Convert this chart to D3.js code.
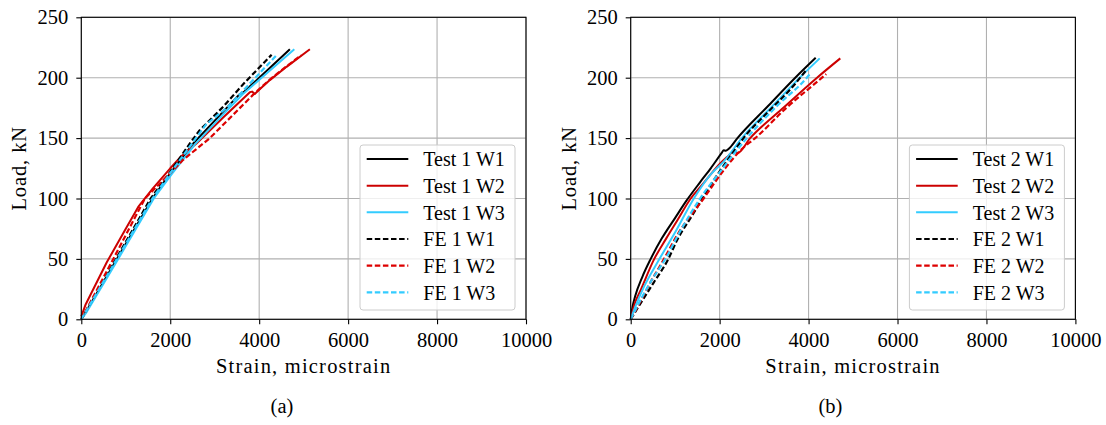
<!DOCTYPE html>
<html>
<head>
<meta charset="utf-8">
<script src="https://cdn.jsdelivr.net/npm/d3@7"></script>
<style>
  html, body { margin: 0; padding: 0; background: #fff; }
  svg { display: block; }
  text { font-family: "Liberation Serif", "Times New Roman", serif; fill: #000; }
</style>
</head>
<body>
<svg id="fig" width="1106" height="425"></svg>
<script>
// ---- tick values ----
const xTicks = [0, 2000, 4000, 6000, 8000, 10000];
const yTicks = [0, 50, 100, 150, 200, 250];

// ---- specimen 1: [strain (microstrain), load (kN)] ----
const test1W1 = [[0,0],[100,6],[800,50],[1600,100],[2000,121],[2517,145.5],[3117,169],[3550,186],[3650,188],[4690,223.5]];
const test1W2 = [[0,2.5],[100,12.5],[570,47],[1000,75],[1280,93],[1600,108],[2000,125],[2250,135],[2590,145.5],[3190,167],[3790,188],[3840,188.5],[3900,186.5],[4000,190],[4240,198],[4615,209],[5140,223.5]];
const test1W3 = [[0,0],[120,6],[830,50],[1630,100],[2050,121],[2560,145],[3150,168],[3650,187],[4790,223.5]];
const fe1W1   = [[0,0],[780,50],[1560,100],[2000,122],[2450,146],[2650,156],[3191,176],[3650,195],[4280,219]];
const fe1W2   = [[0,0],[720,50],[1430,100],[2000,121],[2290,132],[2890,150],[3270,164],[3866,186],[4240,198.5],[4600,209],[4940,218.5]];
const fe1W3   = [[0,0],[800,50],[1600,100],[2000,121],[2500,146],[2800,161],[3300,176],[4400,219]];

// ---- specimen 2 ----
const test2W1 = [[0,0],[40,10],[100,19],[260,35],[450,50],[700,67],[1000,84],[1250,98],[1550,113],[1800,125],[2050,138],[2090,140],[2140,139.5],[2200,141],[2400,150],[3100,177],[3700,200],[4160,216.5]];
const test2W2 = [[0,0],[50,8],[100,14],[210,23],[530,50],[800,67],[1050,82],[1350,100],[1600,111],[2011,129],[2200,135.5],[2275,138],[2340,138.5],[2400,137.5],[2687,150],[3400,174],[4190,200],[4713,216]];
const test2W3 = [[0,0],[100,10],[300,27],[600,47],[1000,72],[1420,100],[1800,120],[2100,131],[2500,150],[3200,177],[3800,200],[4250,216]];
const fe2W1   = [[0,0],[200,12],[510,30],[847,50],[1036,65],[1400,87],[1711,106],[2011,123],[2300,138],[2537,150],[3100,172],[3700,195],[3960,207]];
const fe2W2   = [[0,0],[150,10],[435,30],[750,50],[1050,70],[1640,100],[2124,125],[2500,141],[2800,150],[3500,175],[4302,200],[4398,203]];
const fe2W3   = [[0,0],[150,11],[450,31],[780,50],[1100,72],[1560,100],[2050,124],[2300,136],[2612,150],[3300,177],[3960,200],[4038,203.5]];

// ---- legend text ----
const labels1 = ["Test 1 W1", "Test 1 W2", "Test 1 W3", "FE 1 W1", "FE 1 W2", "FE 1 W3"];
const labels2 = ["Test 2 W1", "Test 2 W2", "Test 2 W3", "FE 2 W1", "FE 2 W2", "FE 2 W3"];
const panelTags = ["(a)", "(b)"];

const xLabel = "Strain, microstrain";
const yLabel = "Load, kN";

// ---- styles ----
const BLACK = "#000000", RED = "#cc0000", CYAN = "#33ccff";
const styles = [
  { color: BLACK, dash: null },
  { color: RED,   dash: null },
  { color: CYAN,  dash: null },
  { color: BLACK, dash: "5.5,2.6" },
  { color: "#dd0000", dash: "5.5,2.6" },
  { color: CYAN,  dash: "5.5,2.6" }
];

const panels = [
  { left: 81.3,  curve: d3.curveLinear,     series: [test1W1, test1W2, test1W3, fe1W1, fe1W2, fe1W3], labels: labels1, tag: panelTags[0], tagX: 282 },
  { left: 630.7, curve: d3.curveMonotoneX,  series: [test2W1, test2W2, test2W3, fe2W1, fe2W2, fe2W3], labels: labels2, tag: panelTags[1], tagX: 830.5 }
];

const plotW = 444.7, plotTop = 17.3, plotBottom = 319.3;
const FS = 20.5;
const svg = d3.select("#fig");

panels.forEach(p => {
  const x = d3.scaleLinear().domain([0, 10000]).range([p.left, p.left + plotW]);
  const y = d3.scaleLinear().domain([0, 250]).range([plotBottom, plotTop]);
  const g = svg.append("g");

  // grid
  g.append("g").selectAll("line").data(xTicks).join("line")
    .attr("x1", d => x(d)).attr("x2", d => x(d))
    .attr("y1", plotTop).attr("y2", plotBottom)
    .attr("stroke", "#b0b0b0").attr("stroke-width", 1.1);
  g.append("g").selectAll("line").data(yTicks).join("line")
    .attr("y1", d => y(d)).attr("y2", d => y(d))
    .attr("x1", p.left).attr("x2", p.left + plotW)
    .attr("stroke", "#b0b0b0").attr("stroke-width", 1.1);

  // curves
  const line = d3.line().curve(p.curve).x(d => x(d[0])).y(d => y(d[1]));
  p.series.forEach((s, i) => {
    g.append("path").datum(s)
      .attr("d", line)
      .attr("fill", "none")
      .attr("stroke", styles[i].color)
      .attr("stroke-width", styles[i].dash ? 2.2 : 2)
      .attr("stroke-linejoin", "round")
      .attr("stroke-dasharray", styles[i].dash);
  });

  // axes
  const ax = g.append("g").attr("transform", `translate(0,${plotBottom})`)
    .call(d3.axisBottom(x).tickValues(xTicks).tickSize(5).tickPadding(8).tickFormat(d3.format("d")));
  const ay = g.append("g").attr("transform", `translate(${p.left},0)`)
    .call(d3.axisLeft(y).tickValues(yTicks).tickSize(5).tickPadding(8).tickFormat(d3.format("d")));
  [ax, ay].forEach(a => {
    a.select(".domain").remove();
    a.attr("font-family", null).attr("font-size", null);
    a.selectAll(".tick line").attr("stroke", "#000").attr("stroke-width", 1.1);
    a.selectAll(".tick text").style("font-size", FS + "px");
  });

  // frame
  g.append("rect")
    .attr("x", p.left).attr("y", plotTop)
    .attr("width", plotW).attr("height", plotBottom - plotTop)
    .attr("fill", "none").attr("stroke", "#000").attr("stroke-width", 1.1);

  // axis labels
  g.append("text")
    .attr("x", p.left + plotW / 2).attr("y", 373)
    .attr("text-anchor", "middle")
    .style("font-size", FS + "px").style("letter-spacing", "1.2px")
    .text(xLabel);
  g.append("text")
    .attr("transform", `translate(${p.left - 55},${(plotTop + plotBottom) / 2}) rotate(-90)`)
    .attr("text-anchor", "middle")
    .style("font-size", FS + "px").style("letter-spacing", "0.9px")
    .text(yLabel);

  // panel tag
  g.append("text")
    .attr("x", p.tagX).attr("y", 413)
    .attr("text-anchor", "middle")
    .style("font-size", FS + "px")
    .text(p.tag);

  // legend
  const lx = p.left + 278.7, ly = 145;
  const lg = g.append("g");
  lg.append("rect")
    .attr("x", lx).attr("y", ly).attr("width", 155).attr("height", 165)
    .attr("rx", 3).attr("ry", 3)
    .attr("fill", "#fff").attr("fill-opacity", 0.8)
    .attr("stroke", "#cccccc").attr("stroke-width", 1);
  p.labels.forEach((lab, i) => {
    const yy = ly + 14 + i * 26.67;
    lg.append("line")
      .attr("x1", lx + 6.7).attr("x2", lx + 48.3)
      .attr("y1", yy).attr("y2", yy)
      .attr("stroke", styles[i].color)
      .attr("stroke-width", styles[i].dash ? 2.2 : 2)
      .attr("stroke-dasharray", styles[i].dash);
    lg.append("text")
      .attr("x", lx + 63.3).attr("y", yy + 7.3)
      .style("font-size", "20px")
      .text(lab);
  });
});
</script>
</body>
</html>
